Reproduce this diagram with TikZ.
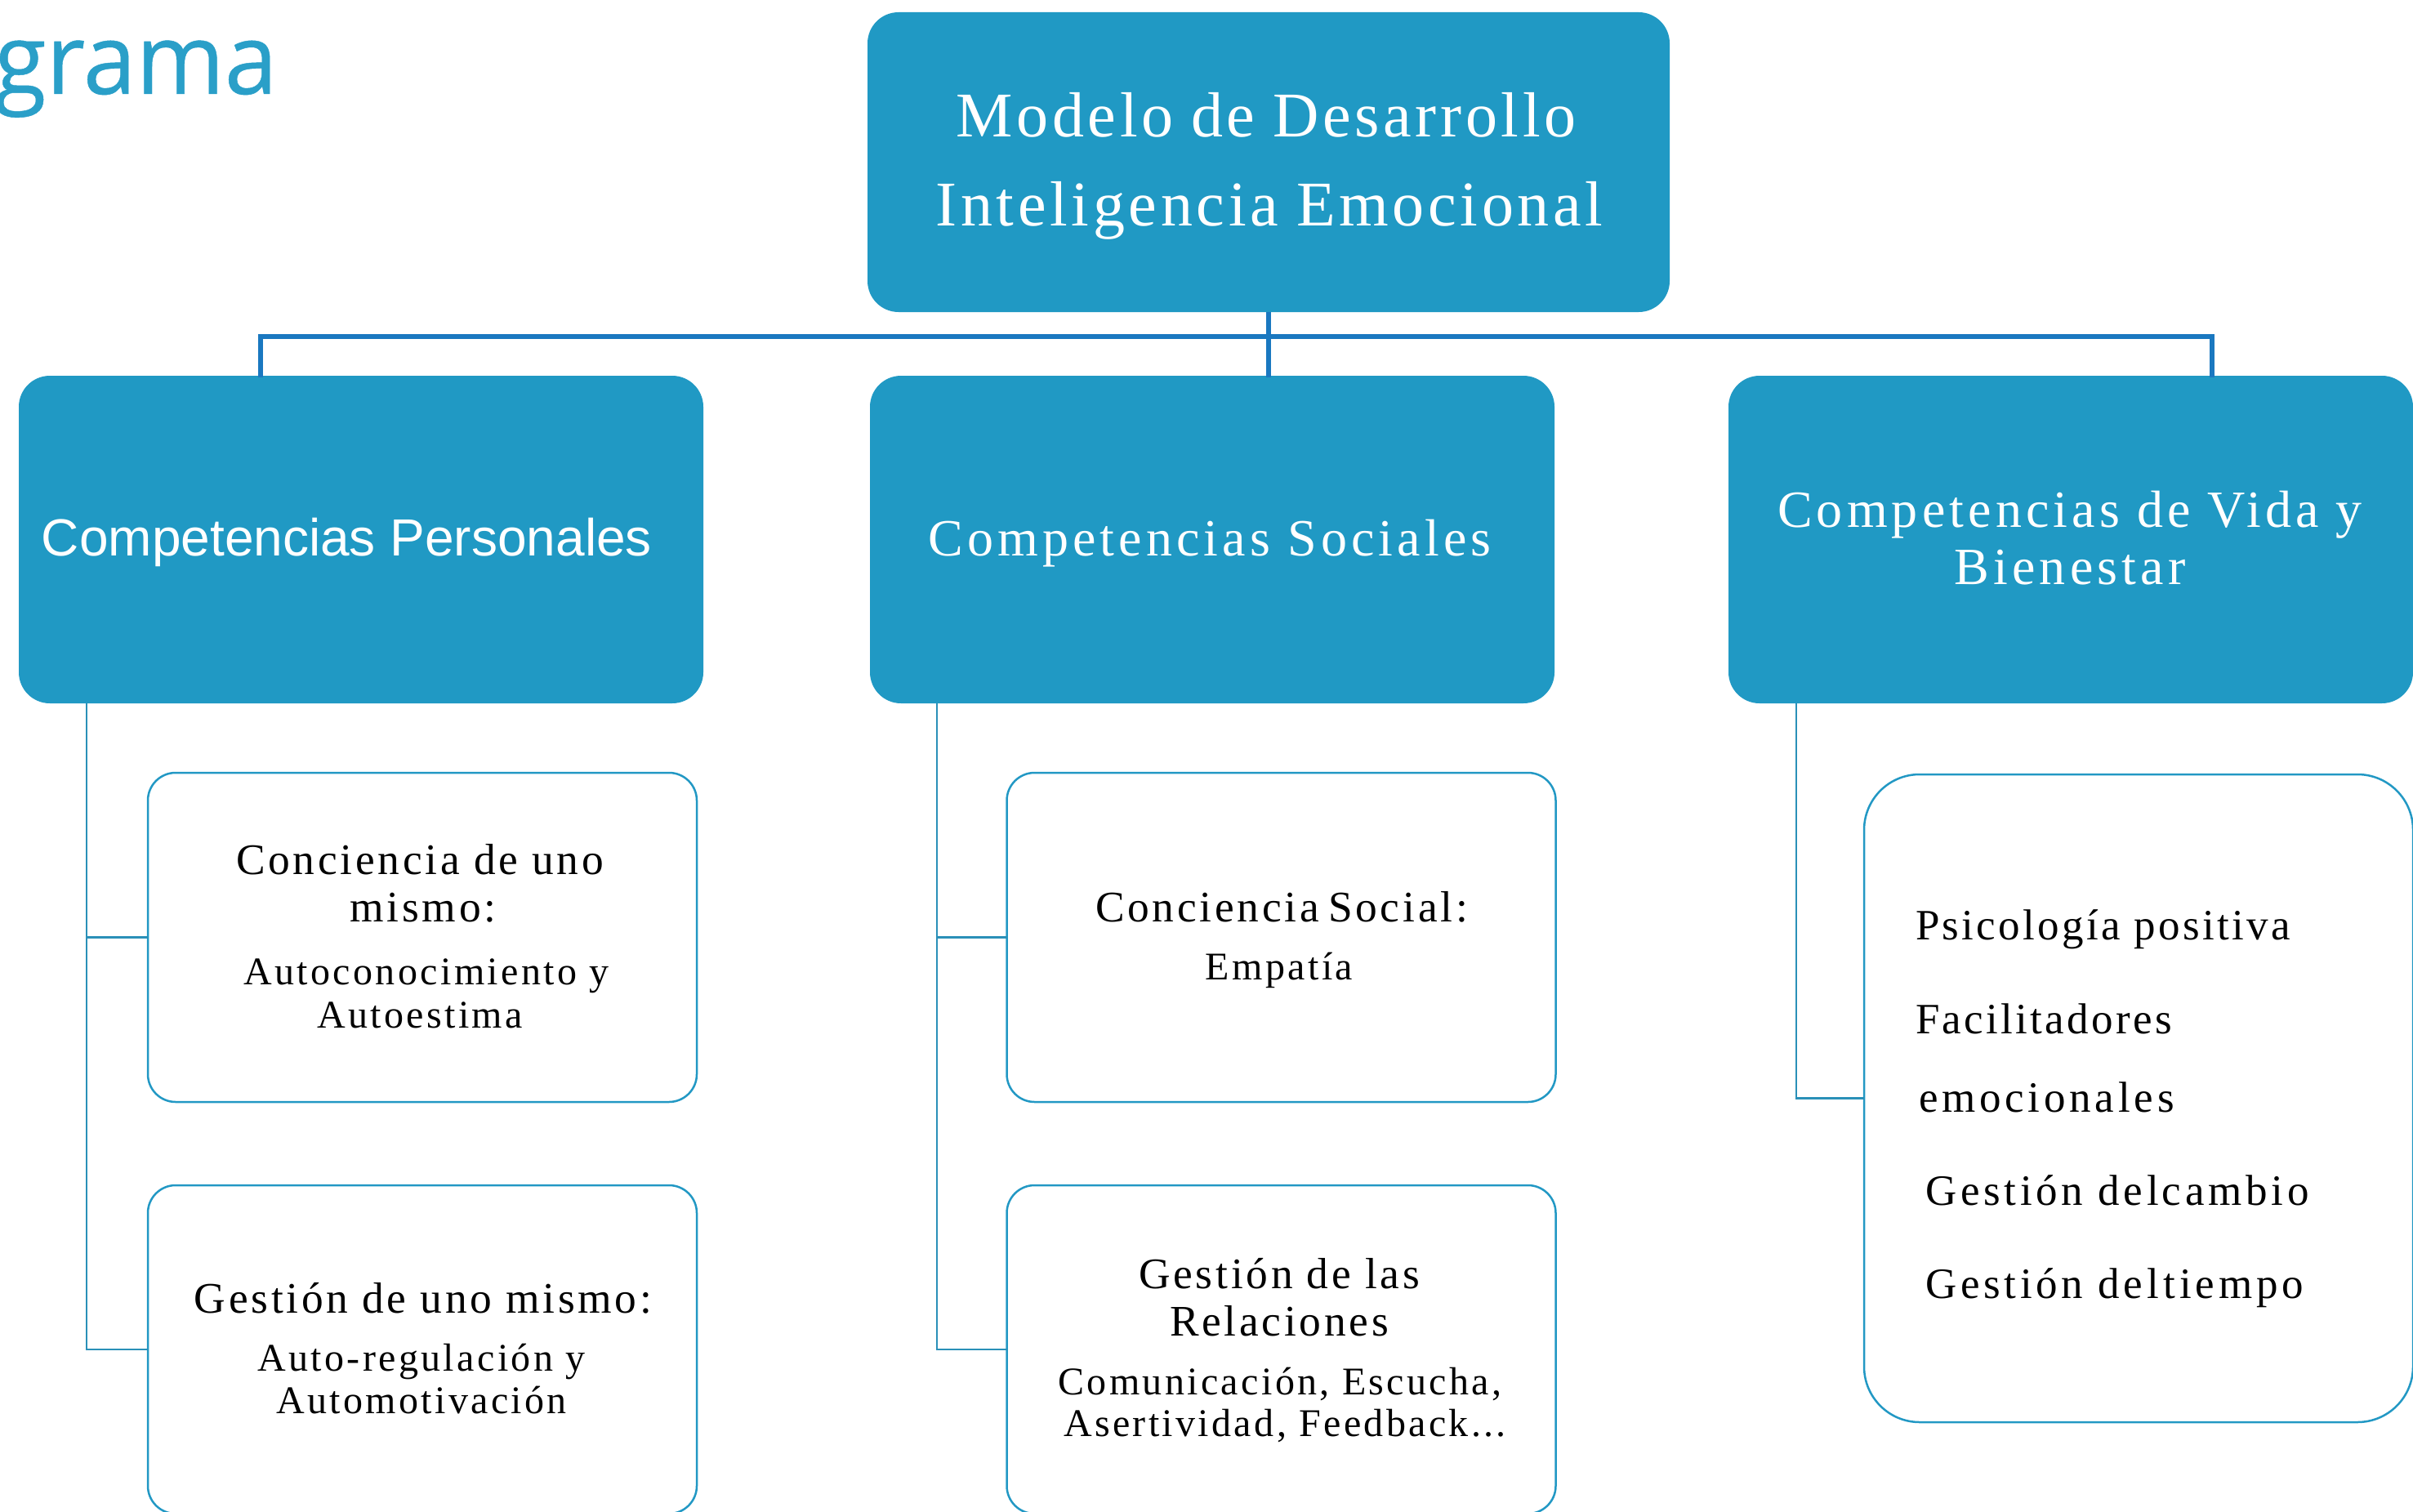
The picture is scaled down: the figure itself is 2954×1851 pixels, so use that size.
\documentclass[tikz,border=0pt]{standalone}
\usepackage{fontspec}
\setmainfont{Liberation Serif}
\newfontfamily\ftop[LetterSpace=6,WordSpace=0.9]{Liberation Serif}
\newfontfamily\fhead[LetterSpace=8,WordSpace=1]{Liberation Serif}
\newfontfamily\fkid[LetterSpace=7,WordSpace=1]{Liberation Serif}
\newfontfamily\flist[LetterSpace=9,WordSpace=1]{Liberation Serif}
\newfontfamily\flistb[LetterSpace=6.3,WordSpace=1]{Liberation Serif}
\newfontfamily\farial{Liberation Sans}
\newfontfamily\fgram[FakeBold=0.4,FakeStretch=0.97]{Open Sans}
\definecolor{boxblue}{HTML}{2099C4}
\definecolor{busblue}{HTML}{1A78C0}
\definecolor{kidline}{HTML}{2A90B8}
\definecolor{kidedge}{HTML}{2298C4}
\definecolor{gramablue}{HTML}{2A9FC8}
\tikzset{
  sz/.style 2 args={minimum width=#1*0.5pt,minimum height=#2*0.5pt,inner sep=0pt,outer sep=0pt},
  bigbox/.style={fill=boxblue,rounded corners=19pt},
  kidbox/.style={draw=kidedge,line width=1.25pt,fill=white,rounded corners=17pt},
  bus/.style={draw=busblue,line width=2.7pt},
  kidlink/.style={draw=kidline,line width=1.3pt},
  lab/.style={anchor=base,inner sep=0pt,outer sep=0pt,text=black},
  lableft/.style={anchor=base west,inner sep=0pt,outer sep=0pt,text=black},
  toptext/.style={lab,text=white,font=\ftop\fontsize{39}{39}\selectfont},
  headtext/.style={lab,text=white,font=\fhead\fontsize{32}{32}\selectfont},
  kidhead/.style={lab,font=\fkid\fontsize{26.7}{27}\selectfont},
  kidsub/.style={lab,font=\fkid\fontsize{24}{24}\selectfont},
  listtext/.style={lableft,font=\flist\fontsize{26.5}{26}\selectfont},
  listtextb/.style={lableft,font=\flistb\fontsize{26.5}{26}\selectfont},
}
\begin{document}
\begin{tikzpicture}[x=0.5pt,y=-0.5pt]
\useasboundingbox (0,0) rectangle (2954,1851);
\clip (0,0) rectangle (2954,1851);
\node[anchor=base east,inner sep=0pt,text=gramablue,font=\fgram\fontsize{60}{60}\selectfont] (title) at (340,115) {grama};
% level boxes
\node[bigbox,sz={982}{367}] (top) at (1553,198.5) {};
\node[bigbox,sz={838}{401}] (pers) at (442,660.5) {};
\node[bigbox,sz={838}{401}] (soc) at (1484,660.5) {};
\node[bigbox,sz={838}{401}] (vida) at (2535,660.5) {};
% connectors
\coordinate (busy) at (1553,412);
\coordinate (inp) at (319,462);
\coordinate (ins) at (1553,462);
\coordinate (inv) at (2708,462);
\draw[bus] (top.south) -- (ins);
\draw[bus] (inp) |- (busy) -| (inv);
% child boxes
\node[kidbox,sz={672}{403}] (k1) at (517,1147.5) {};
\node[kidbox,sz={672}{402}] (k2) at (517,1652) {};
\node[kidbox,sz={672}{403}] (k3) at (1568.5,1147.5) {};
\node[kidbox,sz={672}{402}] (k4) at (1568.5,1652) {};
\node[kidbox,sz={672}{793},rounded corners=34pt] (k5) at (2618,1344.5) {};
\coordinate (p0) at (106,861);
\coordinate (s0) at (1147,861);
\coordinate (v0) at (2199,861);
\draw[kidlink] (p0) |- (k1.west);
\draw[kidlink] (p0) |- (k2.west);
\draw[kidlink] (s0) |- (k3.west);
\draw[kidlink] (s0) |- (k4.west);
\draw[kidlink] (v0) |- (k5.west);
% texts
\node[toptext] (t1) at (1550,168) {Modelo de Desarrollo};
\node[toptext] (t2) at (1554,277) {Inteligencia Emocional};
\node[lab,text=white,font=\farial\fontsize{32}{32}\selectfont] (tp) at (424.5,680) {Competencias Personales};
\node[headtext] (ts) at (1481,680) {Competencias Sociales};
\node[headtext] (tv1) at (2534,645) {Competencias de Vida y};
\node[headtext] (tv2) at (2534,715) {Bienestar};
\node[kidhead] (a1) at (514,1070) {Conciencia de uno};
\node[kidhead] (a2) at (518,1128) {mismo:};
\node[kidsub] (a3) at (522,1205) {Autoconocimiento y};
\node[kidsub] (a4) at (514,1258) {Autoestima};
\node[kidhead] (b1) at (518,1607) {Gestión de uno mismo:};
\node[kidsub] (b2) at (516,1678) {Auto-regulación y};
\node[kidsub] (b3) at (516,1730) {Automotivación};
\node[kidhead] (c1) at (1569,1128) {Conciencia\kern-3pt{} Social:};
\node[kidsub] (c2) at (1566,1199) {Empatía};
\node[kidhead] (d1) at (1566,1577) {Gestión de las};
\node[kidhead] (d2) at (1566,1635) {Relaciones};
\node[kidsub] (d3) at (1567,1707) {Comunicación, Escucha,};
\node[kidsub] (d4) at (1573,1758) {Asertividad, Feedback...};
\node[listtextb] (e1) at (2345,1150) {Psicología positiva};
\node[listtextb] (e2) at (2345,1265) {Facilitadores};
\node[listtext] (e3) at (2349,1361) {emocionales};
\node[listtext] (e4) at (2357,1475) {Gestión del\kern-7pt{} cambio};
\node[listtext] (e5) at (2357,1589) {Gestión del\kern-6pt{} tiempo};
\end{tikzpicture}
\end{document}
